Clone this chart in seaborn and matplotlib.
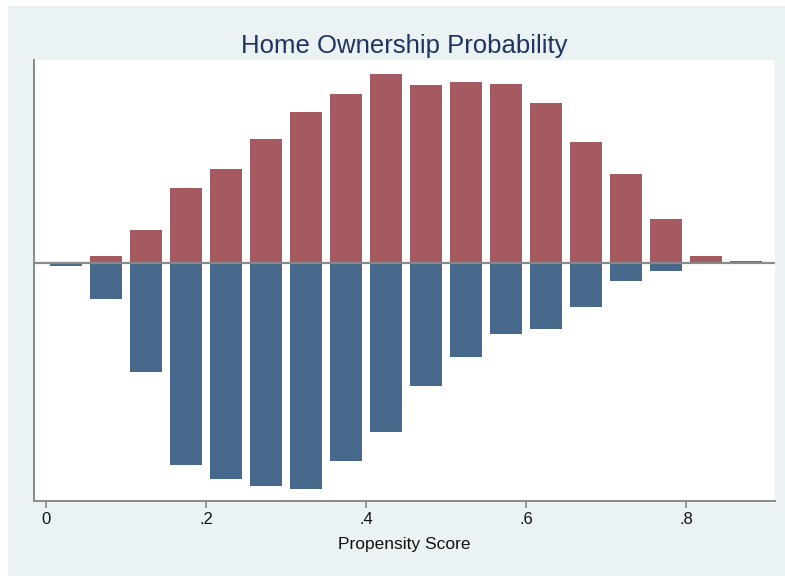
import numpy as np
import pandas as pd
import matplotlib
matplotlib.use("Agg")
import matplotlib.pyplot as plt
import seaborn as sns

# bin centers of propensity score
centers = [0.025, 0.075, 0.125, 0.175, 0.225, 0.275, 0.325, 0.375, 0.425,
           0.475, 0.525, 0.575, 0.625, 0.675, 0.725, 0.775, 0.825, 0.875]
# upper (owners) density heights
owners = [0.0, 0.07, 0.33, 0.75, 0.94, 1.24, 1.51, 1.69, 1.89,
          1.78, 1.81, 1.79, 1.60, 1.21, 0.89, 0.44, 0.07, 0.02]
# lower (non-owners) density heights (drawn downward)
nonowners = [0.03, 0.36, 1.09, 2.02, 2.16, 2.23, 2.26, 1.98, 1.69,
             1.23, 0.94, 0.71, 0.66, 0.44, 0.18, 0.08, 0.01, 0.0]
xticks = [0, 0.2, 0.4, 0.6, 0.8]
xticklabels = ["0", ".2", ".4", ".6", ".8"]

sns.set_style("white")
plt.rcParams['font.family'] = ['Liberation Sans', 'DejaVu Sans']

df = pd.DataFrame({
    "x": centers + centers,
    "y": owners + [-v for v in nonowners],
    "g": ["own"] * len(centers) + ["not"] * len(centers),
})

bg = "#EAF2F3"
fig = plt.figure(figsize=(7.85, 5.76), dpi=100, facecolor="white")
fig.patches.append(plt.Rectangle((8 / 785, 0), 1, 1 - 6 / 576, transform=fig.transFigure,
                                 facecolor=bg, edgecolor="none", zorder=-10))
ax = fig.add_axes([34 / 785, 1 - 501 / 576, (775 - 34) / 785, (501 - 60) / 576])
ax.set_facecolor("white")

sns.barplot(data=df, x="x", y="y", hue="g", native_scale=True, dodge=False,
            palette={"own": "#A45A60", "not": "#46698C"}, width=0.8,
            saturation=1, edgecolor="none", legend=False, ax=ax, zorder=2)

ax.axhline(0, color="#8A8A8A", lw=1.6, zorder=3)
ax.set_xlim(-0.015, (775 - 46) / 800)
ax.set_ylim(-2.38, 2.03)
ax.set_xticks(xticks)
ax.set_xticklabels(xticklabels)
ax.set_yticks([])
ax.set_ylabel("")
ax.set_xlabel("Propensity Score", fontsize=12.5, labelpad=7, color="#111111")
ax.tick_params(axis="x", bottom=True, length=5, width=1.2, color="#8A8A8A",
               labelsize=12, labelcolor="#111111", pad=3)
for s in ["top", "right"]:
    ax.spines[s].set_visible(False)
for s in ["left", "bottom"]:
    ax.spines[s].set_color("#8A8A8A")
    ax.spines[s].set_linewidth(1.4)
ax.set_title("Home Ownership Probability", fontsize=18.5, color="#1F3461", pad=5)

fig.savefig("out.png", dpi=100, facecolor="white")
